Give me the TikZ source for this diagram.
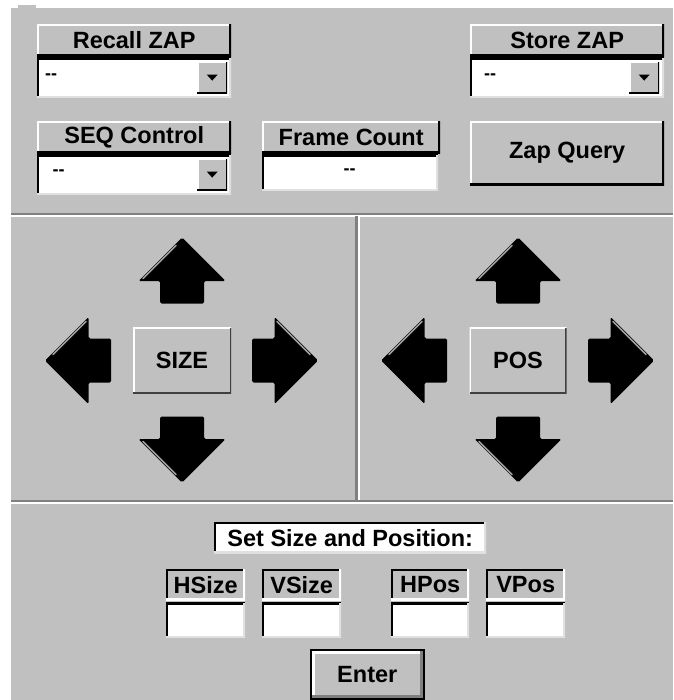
\documentclass[tikz,border=0pt]{standalone}
\usepackage{fontspec}
\setmainfont{Liberation Sans}
\usetikzlibrary{positioning}
\definecolor{winface}{HTML}{C0C0C0}
\definecolor{winshadow}{HTML}{808080}
\definecolor{winlight}{HTML}{E0E0E0}
\newcommand\uifont{\fontsize{23.5}{26}\selectfont\bfseries}
\newcommand\dashfont{\fontsize{18}{20}\selectfont\bfseries}
% black arrow of the size/position pads, pointing along local x
\tikzset{padarrow/.pic={
  \fill[black, rounded corners=1.5pt] (0,-22) -- (22.5,-22) -- (22.5,-43.5) -- (66,0)
    -- (22.5,43.5) -- (22.5,22) -- (0,22) -- cycle;
  \draw[gray!75, line width=1.5pt, line cap=round] (25,#1*39) -- (58,#1*6);
}}

\begin{document}
\begin{tikzpicture}
      [x=1pt, y=-1pt, inner sep=0pt,
      bevel/.style n args={3}{path picture={
        \draw[#1, line width=#3] (path picture bounding box.south west)
          -- (path picture bounding box.north west) -- (path picture bounding box.north east);
        \draw[#2, line width=#3] (path picture bounding box.north east)
          -- (path picture bounding box.south east) -- (path picture bounding box.south west);}},
      raised/.style={fill=winface, bevel={white}{black}{4pt}},
      sunken/.style={fill=white, bevel={black}{winlight}{4pt}},
      header/.style={raised, font=\uifont, minimum width=194pt, minimum height=32pt, anchor=north west},
      dropbox/.style={sunken, minimum width=194pt, minimum height=40pt},
      dropbtn/.style={fill=winface, minimum width=30pt, minimum height=32pt, path picture={
        \draw[white, line width=3pt] (path picture bounding box.south west)
          -- (path picture bounding box.north west) -- (path picture bounding box.north east);
        \draw[black, line width=3pt] (path picture bounding box.north east)
          -- (path picture bounding box.south east) -- (path picture bounding box.south west);
        \fill[black] ([xshift=-5.5pt, yshift=3pt]path picture bounding box.center)
          -- ([xshift=5.5pt, yshift=3pt]path picture bounding box.center)
          -- ([yshift=-3pt]path picture bounding box.center) -- cycle;}},
      dashes/.style={font=\dashfont},
      padbtn/.style={fill=winface, bevel={white}{black!75}{3pt}, font=\uifont,
        minimum width=98pt, minimum height=66pt},
      fieldlbl/.style={fill=winface, bevel={black}{white}{4pt}, font=\uifont,
        minimum width=79pt, minimum height=31pt, anchor=north west},
      field/.style={sunken, minimum width=79pt, minimum height=35pt}]

      \useasboundingbox (0,0) rectangle (673,700);
      \fill[white] (0,0) rectangle (673,700);
      \fill[winface] (11,8) rectangle (673,700);
      \fill[winface] (18,5) rectangle (36,8);

      % zap controls
      \node[header] (recallhdr) at (37,24) {Recall ZAP};
      \node[dropbox, below=1pt of recallhdr] (recallbox) {};
      \node[dropbtn, left=4pt of recallbox.east] (recallbtn) {};
      \node[dashes] (recallval) at (51,77) {-{}-};

      \node[header] (storehdr) at (470,24) {Store ZAP};
      \node[dropbox, below=1pt of storehdr] (storebox) {};
      \node[dropbtn, left=5pt of storebox.east] (storebtn) {};
      \node[dashes] (storeval) at (490,77) {-{}-};

      \node[header] (seqhdr) at (37,121) {SEQ Control};
      \node[dropbox, below=1pt of seqhdr] (seqbox) {};
      \node[dropbtn, left=4pt of seqbox.east] (seqbtn) {};
      \node[dashes] (seqval) at (58.5,173) {-{}-};

      \node[header, minimum width=178pt] (framehdr) at (262,121) {Frame Count};
      \node[sunken, minimum width=176pt, minimum height=36pt,
        below=1pt of framehdr.south west, anchor=north west] (framebox) {};
      \node[dashes] (frameval) at (349.5,172) {-{}-};

      \node[raised, font=\uifont, minimum width=194pt, minimum height=64pt, anchor=north west]
        (zapbtn) at (470,121) {Zap Query};

      % panel dividers
      \draw[winshadow, line width=2pt] (11,214) -- (673,214);
      \draw[white, line width=1.5pt] (11,216) -- (673,216);
      \draw[winshadow, line width=2.5pt] (356.5,216) -- (356.5,501);
      \draw[white, line width=1.5pt] (359.2,216) -- (359.2,501);
      \draw[winshadow, line width=2pt] (11,501) -- (673,501);
      \draw[white, line width=1.5pt] (11,503) -- (673,503);

      % size pad
      \node[padbtn] (sizebtn) at (182,360.5) {SIZE};
      \pic[rotate=90] at ([yshift=57pt]sizebtn.center) {padarrow=-1};
      \pic[rotate=-90] at ([yshift=-56pt]sizebtn.center) {padarrow=1};
      \pic at ([xshift=70pt]sizebtn.center) {padarrow=-1};
      \pic[rotate=180] at ([xshift=-71pt]sizebtn.center) {padarrow=1};

      % position pad
      \node[padbtn, minimum width=97pt] (posbtn) at (518,360.5) {POS};
      \pic[rotate=90] at ([yshift=57pt]posbtn.center) {padarrow=-1};
      \pic[rotate=-90] at ([yshift=-56pt]posbtn.center) {padarrow=1};
      \pic at ([xshift=70pt]posbtn.center) {padarrow=-1};
      \pic[rotate=180] at ([xshift=-71pt]posbtn.center) {padarrow=1};

      % entry fields
      \node[sunken, font=\uifont, minimum width=272pt, minimum height=31pt, anchor=north west]
        (setlbl) at (214,522) {Set Size and Position:};
      \node[fieldlbl] (hsizelbl) at (166,569) {HSize};
      \node[field, below=2pt of hsizelbl] (hsizefld) {};
      \node[fieldlbl] (vsizelbl) at (262,569) {VSize};
      \node[field, below=2pt of vsizelbl] (vsizefld) {};
      \node[fieldlbl, minimum width=78pt] (hposlbl) at (391,569) {HPos};
      \node[field, minimum width=78pt, below=2pt of hposlbl] (hposfld) {};
      \node[fieldlbl] (vposlbl) at (486,569) {VPos};
      \node[field, below=2pt of vposlbl] (vposfld) {};

      \node[fill=winface, bevel={white}{winshadow}{8pt}, draw=black, line width=2.5pt, font=\uifont,
        minimum width=113pt, minimum height=49pt, anchor=north west] (enterbtn) at (309.5,648.5) {Enter};
    \end{tikzpicture}
\end{document}
